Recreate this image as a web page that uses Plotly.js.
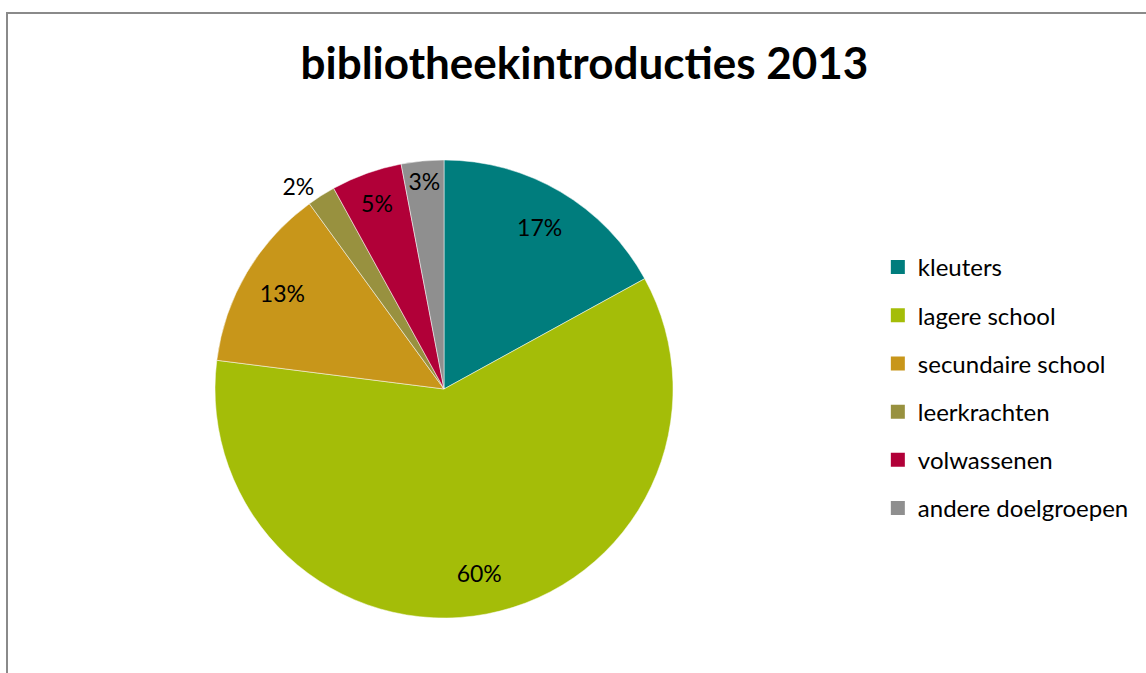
<!DOCTYPE html>
<html>
<head>
<meta charset="utf-8">
<script src="https://cdn.plot.ly/plotly-3.0.1.min.js"></script>
<style>
  html, body { margin: 0; padding: 0; background: #fff; overflow: hidden; }
  #chart { position: absolute; left: 0; top: 0; width: 1146px; height: 673px; }
  #frame { position: absolute; left: 6px; top: 12px; width: 1200px; height: 700px;
           border-left: 2px solid #8a8a8a; border-top: 2px solid #8a8a8a; pointer-events: none; }
</style>
</head>
<body>
<div id="chart"></div>
<div id="frame"></div>
<script>
const categories = ["kleuters", "lagere school", "secundaire school", "leerkrachten", "volwassenen", "andere doelgroepen"];
const values = [17, 60, 13, 2, 5, 3];
const colors = ["#007D7D", "#A4BD08", "#C8961A", "#98913F", "#B10038", "#8F8F8F"];
const textPositions = ["inside", "inside", "inside", "outside", "inside", "inside"];
const chartTitle = "bibliotheekintroducties 2013";

const FONT = "Lato, 'Open Sans', sans-serif";
const DOMAIN = { x: [0.1876, 0.5873], y: [0.0817, 0.7623] };
const LABEL_SIZE = 23;

// filled pie, no text
const pie = {
  type: "pie",
  labels: categories,
  values: values,
  sort: false,
  direction: "clockwise",
  rotation: 0,
  marker: { colors: colors, line: { color: "#ffffff", width: 0.5 } },
  textinfo: "none",
  hoverinfo: "label+percent",
  showlegend: false,
  domain: DOMAIN
};

// transparent ring on top, only to place percentage labels further out (as in the reference)
const labelRing = {
  type: "pie",
  labels: categories,
  values: values,
  sort: false,
  direction: "clockwise",
  rotation: 0,
  hole: 0.64,
  marker: { colors: categories.map(() => "rgba(0,0,0,0)"), line: { width: 0 } },
  texttemplate: "%{percent:.0%}",
  textposition: textPositions,
  insidetextorientation: "horizontal",
  textfont: { family: FONT, size: LABEL_SIZE, color: "#000000" },
  insidetextfont: { family: FONT, size: LABEL_SIZE, color: "#000000" },
  outsidetextfont: { family: FONT, size: LABEL_SIZE, color: "#000000" },
  hoverinfo: "skip",
  showlegend: false,
  domain: DOMAIN
};

const legendTraces = categories.map((c, i) => ({
  type: "scatter",
  mode: "markers",
  x: [null], y: [null],
  name: c,
  legendgroup: "g" + i,
  marker: { symbol: "square", size: 14, color: colors[i] },
  showlegend: true,
  hoverinfo: "skip"
}));

const layout = {
  width: 1146, height: 673,
  margin: { l: 0, r: 0, t: 0, b: 0 },
  paper_bgcolor: "#ffffff",
  plot_bgcolor: "rgba(0,0,0,0)",
  title: {
    text: "<b>" + chartTitle + "</b>",
    x: 0.51, xanchor: "center",
    y: 0.905, yanchor: "middle",
    font: { family: FONT, size: 44, color: "#000000" }
  },
  xaxis: { visible: false, domain: [0.9, 1] },
  yaxis: { visible: false, domain: [0.9, 1] },
  uniformtext: { mode: "show", minsize: LABEL_SIZE },
  showlegend: true,
  legend: {
    x: 0.766, xanchor: "left",
    y: 0.636, yanchor: "top",
    font: { family: FONT, size: 24, color: "#000000" },
    tracegroupgap: 14,
    itemwidth: 30,
    bgcolor: "rgba(0,0,0,0)"
  }
};

Plotly.newPlot("chart", [pie, labelRing].concat(legendTraces), layout, { displayModeBar: false, staticPlot: true });
</script>
</body>
</html>
